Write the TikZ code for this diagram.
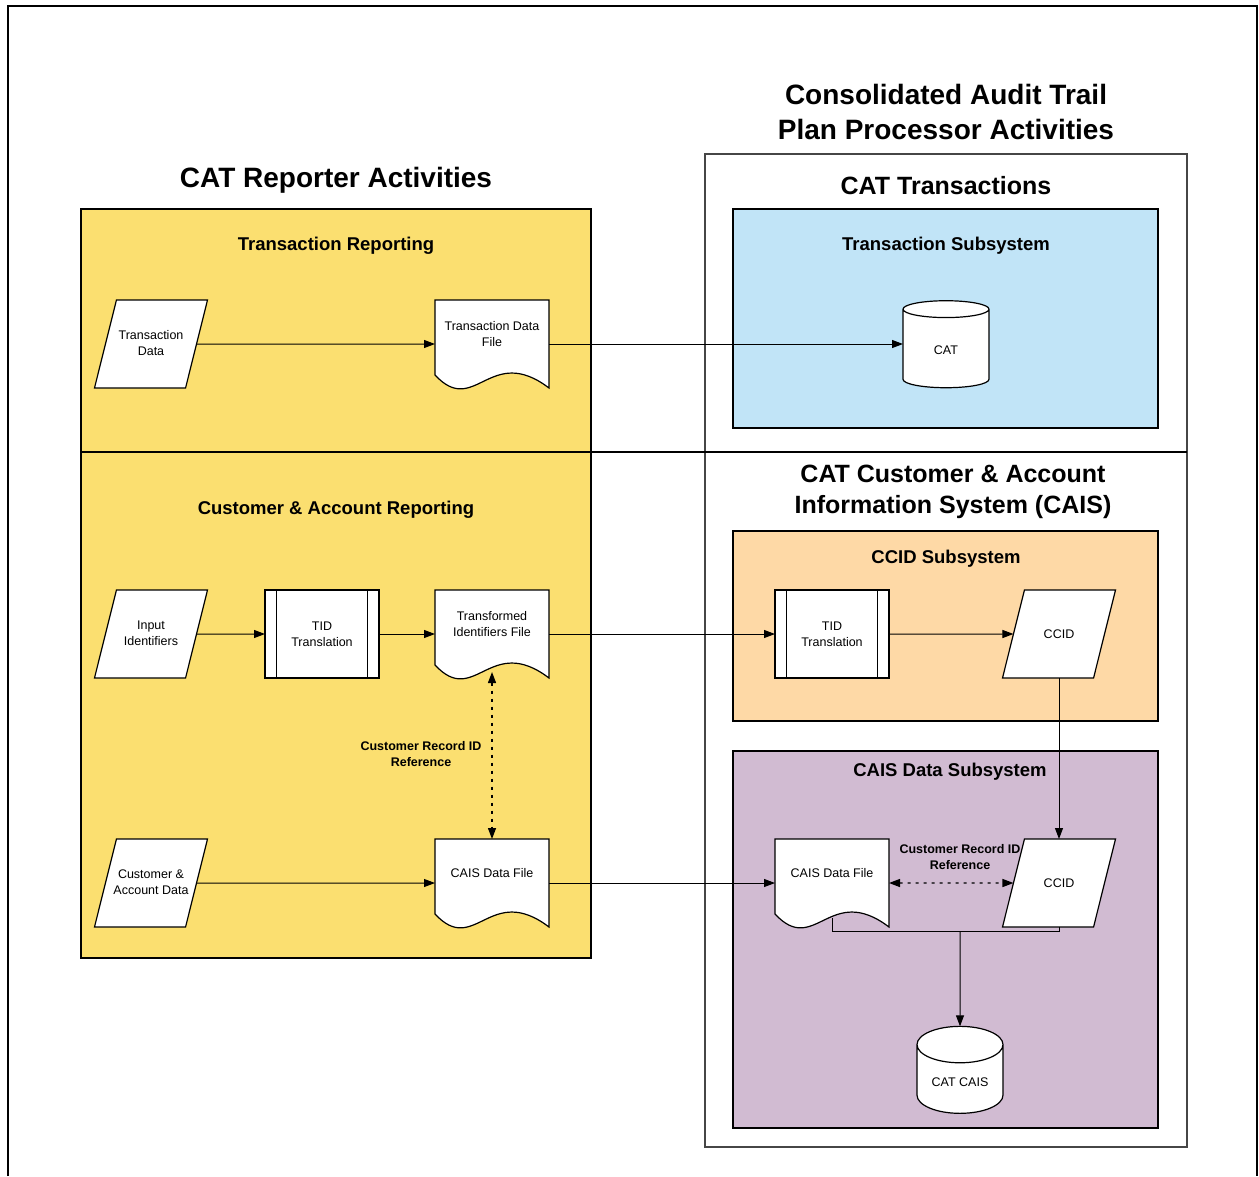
\documentclass[tikz,border=0pt]{standalone}
\usepackage{fontspec}
\setmainfont{Liberation Sans}
\usetikzlibrary{shapes.geometric,arrows.meta}
\definecolor{reportYellow}{RGB}{251,223,112}
\definecolor{txnBlue}{RGB}{193,228,247}
\definecolor{ccidOrange}{RGB}{254,217,166}
\definecolor{caisPurple}{RGB}{209,187,210}
\definecolor{frameGray}{RGB}{70,70,70}

% document shape with a wavy bottom edge
\makeatletter
\pgfdeclareshape{docfile}{%
  \inheritsavedanchors[from=rectangle]%
  \inheritanchorborder[from=rectangle]%
  \inheritanchor[from=rectangle]{center}%
  \inheritanchor[from=rectangle]{north}%
  \inheritanchor[from=rectangle]{south}%
  \inheritanchor[from=rectangle]{east}%
  \inheritanchor[from=rectangle]{west}%
  \inheritanchor[from=rectangle]{north east}%
  \inheritanchor[from=rectangle]{north west}%
  \inheritanchor[from=rectangle]{south east}%
  \inheritanchor[from=rectangle]{south west}%
  \backgroundpath{%
    \southwest \edef\docL{\the\pgf@x}\edef\docB{\the\pgf@y}%
    \northeast \edef\docR{\the\pgf@x}\edef\docT{\the\pgf@y}%
    \pgfmathsetmacro\docW{\docR-\docL}%
    \pgfpathmoveto{\pgfpoint{\docL}{\docT}}%
    \pgfpathlineto{\pgfpoint{\docR}{\docT}}%
    \pgfpathlineto{\pgfpoint{\docR}{\docB}}%
    \pgfpathcurveto{\pgfpoint{\docL+0.48*\docW}{\docB+45}}%
      {\pgfpoint{\docL+0.35*\docW}{\docB-30}}%
      {\pgfpoint{\docL}{\docB+13}}%
    \pgfpathclose
  }%
}
\makeatother

\begin{document}
\begin{tikzpicture}[x=1pt, y=-1pt]
            % Styles
            \tikzstyle{title} = [font=\fontsize{28}{35}\selectfont\bfseries, align=center]
            \tikzstyle{subtitle} = [font=\fontsize{25}{31}\selectfont\bfseries, align=center]
            \tikzstyle{heading} = [font=\fontsize{18.5}{22}\selectfont\bfseries]
            \tikzstyle{panel} = [draw=black, line width=1.2pt]
            \tikzstyle{nodebase} = [draw=black, fill=white, line width=1.2pt, font=\fontsize{12.5}{16}\selectfont, align=center, inner sep=2pt, outer sep=0pt]
            \tikzstyle{iobox} = [nodebase, trapezium, trapezium left angle=76, trapezium right angle=104, trapezium stretches body=true, minimum width=113pt, inner xsep=-4pt, text height=53.5pt, text depth=30.5pt]
            \tikzstyle{iosingle} = [iobox, text height=46pt, text depth=38pt]
            \tikzstyle{procbox} = [nodebase, rectangle, minimum width=114pt, minimum height=88pt,
                path picture={
                    \draw[line width=1.2pt] ([xshift=11.5pt]path picture bounding box.north west) -- ([xshift=11.5pt]path picture bounding box.south west);
                    \draw[line width=1.2pt] ([xshift=-11.5pt]path picture bounding box.north east) -- ([xshift=-11.5pt]path picture bounding box.south east);
                }]
            \tikzstyle{filebox} = [nodebase, docfile, minimum width=114pt, minimum height=88pt, text depth=20pt]
            \tikzstyle{dbbox} = [nodebase, cylinder, shape border rotate=90, aspect=0.6, minimum width=86pt, minimum height=87pt]
            \tikzstyle{arrow} = [-{Triangle[length=11pt,width=8pt]}, line width=1pt]
            \tikzstyle{refarrow} = [{Triangle[length=11pt,width=8pt]}-{Triangle[length=11pt,width=8pt]}, line width=1.3pt, dash pattern=on 3pt off 5pt]
            \tikzstyle{reflabel} = [font=\fontsize{12.5}{16}\selectfont\bfseries, align=center]

            \useasboundingbox (0,0) rectangle (1259,1176);
            \draw[line width=2.5pt] (8,1176) -- (8,6) -- (1257,6) -- (1257,1176);

            % Panels
            \draw[panel, fill=reportYellow] (81,209) rectangle (591,958);
            \draw[draw=frameGray, line width=1.5pt] (705,154) rectangle (1187,1147);
            \draw[panel, fill=txnBlue] (733,209) rectangle (1158,428);
            \draw[panel, fill=ccidOrange] (733,531) rectangle (1158,721);
            \draw[panel, fill=caisPurple] (733,751) rectangle (1158,1128);
            \draw[line width=2.5pt] (81,452) -- (1187,452);

            % Titles
            \node[title] (reporterTitle) at (336,180) {CAT Reporter Activities};
            \node[title] (processorTitle) at (946,112) {Consolidated Audit Trail\\Plan Processor Activities};
            \node[subtitle] (txnTitle) at (946,186) {CAT Transactions};
            \node[subtitle] (caisTitle) at (953,492) {CAT Customer \& Account\\Information System (CAIS)};
            \node[heading] (txnReporting) at (336,246) {Transaction Reporting};
            \node[heading] (txnSubsystem) at (946,246) {Transaction Subsystem};
            \node[heading] (caReporting) at (336,510) {Customer \& Account Reporting};
            \node[heading] (ccidSubsystem) at (946,559) {CCID Subsystem};
            \node[heading] (caisSubsystem) at (950,772) {CAIS Data Subsystem};

            % Nodes - explicit coordinates
            \node[iobox] (txnData) at (151,344) {Transaction\\Data};
            \node[filebox] (txnFile) at (492,344) {Transaction Data\\File};
            \node[dbbox] (cat) at (946,350) {CAT};

            \node[iobox] (inputIds) at (151,634) {Input\\Identifiers};
            \node[procbox] (tidLeft) at (322,634) {TID\\Translation};
            \node[filebox] (transFile) at (492,634) {Transformed\\Identifiers File};
            \node[procbox] (tidRight) at (832,634) {TID\\Translation};
            \node[iosingle] (ccidTop) at (1059,634) {CCID};

            \node[iobox] (custData) at (151,883) {Customer \&\\Account Data};
            \node[filebox] (caisFileLeft) at (492,883) {CAIS Data File};
            \node[filebox] (caisFileRight) at (832,883) {CAIS Data File};
            \node[iosingle] (ccidBottom) at (1059,883) {CCID};
            \node[dbbox] (catCais) at (960,1082) {CAT CAIS};

            \node[reflabel] (refLeft) at (421,754) {Customer Record ID\\Reference};
            \node[reflabel] (refRight) at (960,857) {Customer Record ID\\Reference};
            \coordinate (merge) at (960,931);

            % Arrows
            \draw[arrow] (txnData) -- (txnFile);
            \draw[arrow] (txnFile.east) -- (cat.west |- txnFile.east);
            \draw[arrow] (inputIds) -- (tidLeft);
            \draw[arrow] (tidLeft) -- (transFile);
            \draw[arrow] (transFile) -- (tidRight);
            \draw[arrow] (tidRight) -- (ccidTop);
            \draw[arrow] (ccidTop.south -| ccidTop.center) -- (ccidBottom.north -| ccidBottom.center);
            \draw[arrow] (custData) -- (caisFileLeft);
            \draw[arrow] (caisFileLeft) -- (caisFileRight);
            \draw[refarrow] ([yshift=6pt]transFile.south) -- (caisFileLeft.north);
            \draw[refarrow] (caisFileRight) -- (ccidBottom);
            \draw[line width=1pt] ([yshift=9pt]caisFileRight.south) |- (merge) -| (ccidBottom.south -| ccidBottom.center);
            \draw[arrow] (merge) -- (catCais);
        \end{tikzpicture}
\end{document}
